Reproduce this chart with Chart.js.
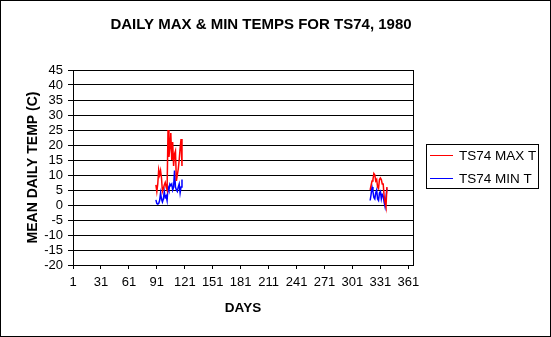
<!DOCTYPE html>
<html>
<head>
<meta charset="utf-8">
<script src="https://cdn.jsdelivr.net/npm/chart.js@4.4.1/dist/chart.umd.min.js"></script>
<style>
  html, body { margin: 0; padding: 0; background: #fff; }
  #c { display: block; }
</style>
</head>
<body>
<canvas id="c" width="551" height="337"></canvas>
<script>
// Text
const chartTitle = 'DAILY MAX & MIN TEMPS FOR TS74, 1980';
const xTitle = 'DAYS';
const yTitle = 'MEAN DAILY TEMP (C)';
const seriesNames = ['TS74 MAX T', 'TS74 MIN T'];
const seriesColors = ['#ff0000', '#0000ff'];

// Axis ticks
const dayTicks = [1, 31, 61, 91, 121, 151, 181, 211, 241, 271, 301, 331, 361];
const tempMin = -20, tempMax = 45, tempStep = 5;

// Spring record (day of year 90-118)
const springDays = [90, 91, 92, 93, 94, 95, 96, 97, 98, 99, 100, 101, 102, 103, 104,
                    105, 106, 107, 108, 109, 110, 111, 112, 113, 114, 115, 116, 117, 118];
const springMax = [6.7, 4.5, 7, 11.7, 10, 11.5, 9, 4.5, 5.5, 6.7, 7.5, 6, 5, 25, 16,
                   19, 24, 15, 21, 13, 17, 18, 8, 10, 12, 15, 19, 22, 13];
const springMin = [1.7, 0.5, 0.3, 0.5, 1.5, 4, 2, 1, 2, 4.5, 2.5, 3, 1.5, 6, 5,
                   7, 6.5, 7, 5, 6, 11.5, 6, 5, 4.5, 6, 7, 4, 6, 8.5];

// Autumn record (day of year 320-338)
const autumnDays = [320, 321, 322, 323, 324, 325, 326, 327, 328, 329,
                    330, 331, 332, 333, 334, 335, 336, 337, 338];
const autumnMax = [5, 6.5, 8, 8.5, 10.5, 10, 8, 8.5, 6, 5.5,
                   8.5, 9, 8.5, 7, 7, 3, 1, -0.5, 6];
const autumnMin = [1.5, 3.5, 6, 4.5, 2.5, 2, 4, 5, 2, 1.5,
                   4, 4.5, 2, 3.5, 3, 1, -0.5, -0.5, 5.5];

const FONT = "'Liberation Sans', Arial, sans-serif";

// Join the two records into one series, with a null between them so the line breaks
function buildSeries(d1, v1, d2, v2) {
  const pts = d1.map((d, i) => ({ x: d, y: v1[i] }));
  pts.push({ x: d1[d1.length - 1] + 1, y: null });
  return pts.concat(d2.map((d, i) => ({ x: d, y: v2[i] })));
}

const frameAndText = {
  id: 'frameAndText',
  beforeDraw(chart) {
    const ctx = chart.ctx;
    ctx.save();
    ctx.fillStyle = '#fff';
    ctx.fillRect(0, 0, chart.width, chart.height);
    ctx.restore();
  },
  afterDraw(chart) {
    const ctx = chart.ctx;
    const a = chart.chartArea;
    ctx.save();
    // outer frame
    ctx.strokeStyle = '#000';
    ctx.lineWidth = 1;
    ctx.strokeRect(0.5, 0.5, chart.width - 1, chart.height - 1);
    // right edge of plot area
    ctx.beginPath();
    ctx.moveTo(Math.round(a.right) + 0.5, Math.round(a.top));
    ctx.lineTo(Math.round(a.right) + 0.5, Math.round(a.bottom) + 1);
    ctx.stroke();
    // title
    ctx.fillStyle = '#000';
    ctx.font = 'bold 15px ' + FONT;
    ctx.textAlign = 'center';
    ctx.textBaseline = 'middle';
    ctx.fillText(chartTitle, 261, 25);
    // legend
    const lx = 426, ly = 144, lw = 112, lh = 44;
    ctx.strokeRect(lx + 0.5, ly + 0.5, lw, lh);
    ctx.font = '13.5px ' + FONT;
    ctx.textAlign = 'left';
    chart.data.datasets.forEach((ds, i) => {
      const y = ly + 11 + i * 23;
      ctx.strokeStyle = ds.borderColor;
      ctx.beginPath();
      ctx.moveTo(lx + 4, y + 0.5);
      ctx.lineTo(lx + 27, y + 0.5);
      ctx.stroke();
      ctx.fillStyle = '#000';
      ctx.fillText(ds.label, lx + 33, y + 1);
    });
    ctx.restore();
  }
};

new Chart(document.getElementById('c'), {
  type: 'line',
  data: {
    datasets: [
      {
        label: seriesNames[0],
        data: buildSeries(springDays, springMax, autumnDays, autumnMax),
        borderColor: seriesColors[0],
        borderWidth: 1.5,
        pointRadius: 0,
        tension: 0,
        spanGaps: false
      },
      {
        label: seriesNames[1],
        data: buildSeries(springDays, springMin, autumnDays, autumnMin),
        borderColor: seriesColors[1],
        borderWidth: 1.5,
        pointRadius: 0,
        tension: 0,
        spanGaps: false
      }
    ]
  },
  options: {
    responsive: false,
    animation: false,
    devicePixelRatio: 1,
    layout: { padding: { left: 20, top: 70, right: 138, bottom: 21 } },
    plugins: {
      legend: { display: false },
      title: { display: false },
      tooltip: { enabled: false }
    },
    scales: {
      x: {
        type: 'linear',
        min: 1,
        max: 366,
        afterBuildTicks: (s) => { s.ticks = dayTicks.map(v => ({ value: v })); },
        afterFit: (s) => { s.height = 51; },
        grid: { drawOnChartArea: false, drawTicks: true, tickLength: 4, color: '#000', lineWidth: 1 },
        border: { display: true, color: '#000', width: 1 },
        ticks: { color: '#000', font: { family: FONT, size: 13 }, padding: 6, maxRotation: 0, autoSkip: false },
        title: { display: true, text: xTitle, color: '#000', font: { family: FONT, size: 13.5, weight: 'bold' }, padding: { top: 0, bottom: 0 } }
      },
      y: {
        min: tempMin,
        max: tempMax,
        afterFit: (s) => { s.width = 53; },
        grid: { color: '#000', lineWidth: 1, drawTicks: true, tickLength: 5 },
        border: { display: true, color: '#000', width: 1 },
        ticks: { stepSize: tempStep, color: '#000', font: { family: FONT, size: 13 }, padding: 5, autoSkip: false },
        title: { display: true, text: yTitle, color: '#000', font: { family: FONT, size: 14, weight: 'bold' }, padding: { top: 5, bottom: 0 } }
      }
    }
  },
  plugins: [frameAndText]
});
</script>
</body>
</html>
